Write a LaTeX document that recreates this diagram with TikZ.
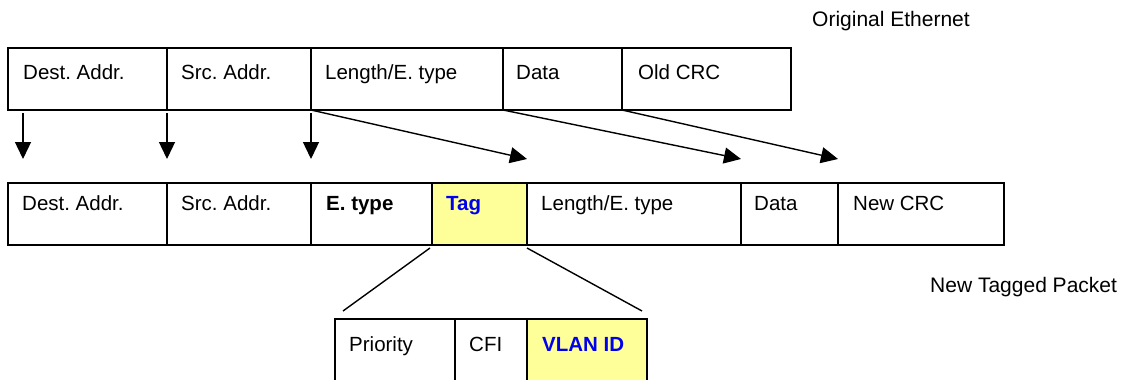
\documentclass[tikz,border=0pt]{standalone}
\usepackage{fontspec}
\setmainfont{Liberation Sans}
\usetikzlibrary{arrows.meta,calc}
\definecolor{tagyellow}{RGB}{255,255,153}
\definecolor{tagblue}{RGB}{0,0,240}
\frenchspacing
\begin{document}
\begin{tikzpicture}[x=1pt,y=-1pt,
  cell/.style={draw=black,line width=2.3pt,anchor=north west,minimum height=62pt,inner sep=0pt,outer sep=0pt},
  tallcell/.style={cell,minimum height=90pt},
  lab/.style={anchor=base west,inner sep=0pt,font=\fontsize{20.5}{24}\selectfont},
  title/.style={lab,font=\fontsize{21}{25}\selectfont},
  tagtext/.style={lab,text=tagblue,font=\fontsize{20.5}{24}\selectfont\bfseries},
  conn/.style={line width=1.4pt},
  arr/.style={conn,-{Triangle[length=17pt,width=16pt]}}]
\clip (0,0) rectangle (1122,380);
\fill[white] (0,0) rectangle (1122,380);
% top row: original Ethernet
\node[cell,minimum width=159pt] (t1) at (8,48) {};
\node[cell,minimum width=144pt] (t2) at (167,48) {};
\node[cell,minimum width=192pt] (t3) at (311,48) {};
\node[cell,minimum width=119pt] (t4) at (503,48) {};
\node[cell,minimum width=169pt] (t5) at (622,48) {};
\node[lab] at ($(t1.north west)+(15,31)$) {Dest. Addr.};
\node[lab] at ($(t2.north west)+(14,31)$) {Src. Addr.};
\node[lab] at ($(t3.north west)+(14,31)$) {Length/E. type};
\node[lab] at ($(t4.north west)+(13,31)$) {Data};
\node[lab] at ($(t5.north west)+(16,31)$) {Old CRC};
\node[title] (orig) at (812,27) {Original Ethernet};
% second row: tagged packet
\node[cell,minimum width=159pt] (b1) at (8,183) {};
\node[cell,minimum width=144pt] (b2) at (167,183) {};
\node[cell,minimum width=121pt] (b3) at (311,183) {};
\node[cell,minimum width=95pt,fill=tagyellow] (b4) at (432,183) {};
\node[cell,minimum width=214pt] (b5) at (527,183) {};
\node[cell,minimum width=97pt] (b6) at (741,183) {};
\node[cell,minimum width=166pt] (b7) at (838,183) {};
\node[lab] at ($(b1.north west)+(14,27)$) {Dest. Addr.};
\node[lab] at ($(b2.north west)+(14,27)$) {Src. Addr.};
\node[lab,font=\fontsize{20.5}{24}\selectfont\bfseries] at ($(b3.north west)+(15,27)$) {E. type};
\node[tagtext] at ($(b4.north west)+(14,27)$) {Tag};
\node[lab] at ($(b5.north west)+(14,27)$) {Length/E. type};
\node[lab] at ($(b6.north west)+(13,27)$) {Data};
\node[lab] at ($(b7.north west)+(15,27)$) {New CRC};
\node[title] (newp) at (930,292) {New Tagged Packet};
% tag detail
\node[tallcell,minimum width=120pt] (p1) at (335,319) {};
\node[tallcell,minimum width=72pt] (p2) at (455,319) {};
\node[tallcell,minimum width=120pt,fill=tagyellow] (p3) at (527,319) {};
\node[lab] at ($(p1.north west)+(14,32)$) {Priority};
\node[lab] at ($(p2.north west)+(14,32)$) {CFI};
\node[tagtext] at ($(p3.north west)+(15,32)$) {VLAN ID};
% connectors
\draw[arr] ($(t1.south west)+(15,3)$) -- ($(b1.north west)+(15,-24)$);
\draw[arr] ($(t2.south west)+(0,3)$) -- ($(b2.north west)+(0,-24)$);
\draw[arr] ($(t3.south west)+(0,3)$) -- ($(b3.north west)+(0,-24)$);
\draw[arr] (t3.south west) -- ($(b5.north west)+(0,-24)$);
\draw[arr] (t4.south west) -- ($(b6.north west)+(0,-24)$);
\draw[arr] (t5.south west) -- ($(b7.north west)+(0,-24)$);
\draw[conn] ($(b4.south west)+(-2,3)$) -- ($(p1.north west)+(8,-8)$);
\draw[conn] ($(b4.south east)+(0,3)$) -- ($(p3.north east)+(-5,-8)$);
\end{tikzpicture}
\end{document}
